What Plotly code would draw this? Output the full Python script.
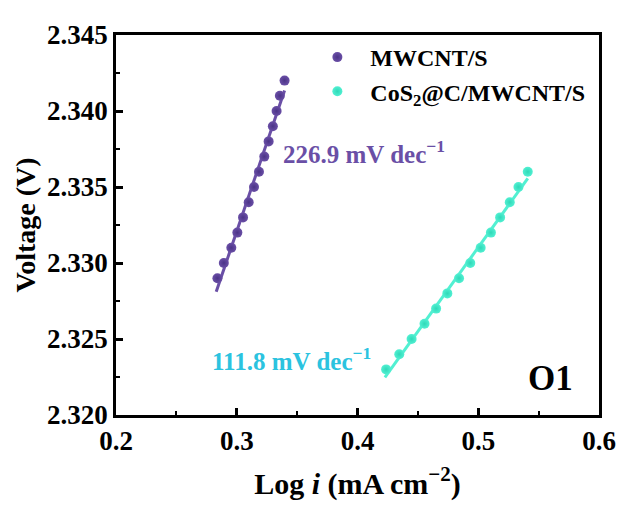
import numpy as np
import plotly.graph_objects as go

# Data
mw_logi = [0.284, 0.2893, 0.2955, 0.3005, 0.3052, 0.3099, 0.3143, 0.3184,
           0.3228, 0.3264, 0.3299, 0.333, 0.3357, 0.3396]
mw_volt = [2.329, 2.330, 2.331, 2.332, 2.333, 2.334, 2.335, 2.336,
           2.337, 2.338, 2.339, 2.340, 2.341, 2.342]

co_logi = [0.4237, 0.4346, 0.4448, 0.4555, 0.4651, 0.4744, 0.4841, 0.4934,
           0.502, 0.5105, 0.5181, 0.5261, 0.5333, 0.541]
co_volt = [2.323, 2.324, 2.325, 2.326, 2.327, 2.328, 2.329, 2.330,
           2.331, 2.332, 2.333, 2.334, 2.335, 2.336]

series_names = ["MWCNT/S", "CoS<sub>2</sub>@C/MWCNT/S"]
tafel_labels = ["226.9 mV dec<sup>−1</sup>", "111.8 mV dec<sup>−1</sup>"]
x_ticks = [0.2, 0.3, 0.4, 0.5, 0.6]
y_ticks = [2.320, 2.325, 2.330, 2.335, 2.340, 2.345]

PURPLE = "#6A4FA6"
CYAN_PT = "#52F0D2"
CYAN_TXT = "#2BC3DF"
FONT = "Liberation Serif"


def fit_line(x, y):
    x = np.asarray(x)
    y = np.asarray(y)
    k, b = np.polyfit(x, y, 1)
    xs = np.array([x.min() - 0.001, x.max()])
    return xs, k * xs + b


fig = go.Figure()

for xs, ys, col in [(mw_logi, mw_volt, PURPLE), (co_logi, co_volt, CYAN_PT)]:
    lx, ly = fit_line(xs, ys)
    fig.add_trace(go.Scatter(x=lx, y=ly, mode="lines",
                             line=dict(color=col, width=3),
                             showlegend=False, hoverinfo="skip"))

fig.add_trace(go.Scatter(x=mw_logi, y=mw_volt, mode="markers", name=series_names[0],
                         marker=dict(color=PURPLE, size=10,
                                     gradient=dict(type="radial", color="#4B3387"))))
fig.add_trace(go.Scatter(x=co_logi, y=co_volt, mode="markers", name=series_names[1],
                         marker=dict(color=CYAN_PT, size=10,
                                     gradient=dict(type="radial", color="#2FD9B8"))))

axis_common = dict(
    showline=True, linecolor="black", linewidth=2.5, mirror=True,
    ticks="inside", ticklen=7, tickwidth=2.5, tickcolor="black",
    showgrid=False, zeroline=False,
    tickfont=dict(family=FONT, size=27, color="black", weight="bold"),
)

fig.update_xaxes(range=[0.2, 0.6], tickvals=x_ticks,
                 ticktext=[f"{v:.1f}" for v in x_ticks],
                 minor=dict(ticks="inside", ticklen=4, tickwidth=2, tickcolor="black",
                            dtick=0.05),
                 title=dict(text="Log <i>i</i> (mA cm<sup>−2</sup>)",
                            font=dict(family=FONT, size=30, color="black", weight="bold"),
                            standoff=18),
                 **axis_common)
fig.update_yaxes(range=[2.320, 2.345], tickvals=y_ticks,
                 ticktext=[f"{v:.3f}" for v in y_ticks],
                 minor=dict(ticks="inside", ticklen=4, tickwidth=2, tickcolor="black",
                            dtick=0.0025),
                 title=dict(text="Voltage (V)",
                            font=dict(family=FONT, size=28, color="black", weight="bold"),
                            standoff=4),
                 **axis_common)

fig.add_annotation(x=0.337, y=2.3373, xref="x", yref="y", text=tafel_labels[0],
                   showarrow=False, xanchor="left", yanchor="middle",
                   font=dict(family=FONT, size=25, color=PURPLE, weight="bold"))
fig.add_annotation(x=0.278, y=2.3237, xref="x", yref="y", text=tafel_labels[1],
                   showarrow=False, xanchor="left", yanchor="middle",
                   font=dict(family=FONT, size=25, color=CYAN_TXT, weight="bold"))
fig.add_annotation(x=0.899, y=0.095, xref="paper", yref="paper", text="O1",
                   showarrow=False, xanchor="center", yanchor="middle",
                   font=dict(family=FONT, size=35, color="black", weight="bold"))

fig.update_layout(
    width=620, height=499,
    margin=dict(l=108, r=25, t=20, b=90),
    paper_bgcolor="white", plot_bgcolor="white",
    legend=dict(x=0.39, y=1.0, xanchor="left", yanchor="top",
                bgcolor="rgba(0,0,0,0)", itemwidth=56, tracegroupgap=0,
                font=dict(family=FONT, size=24, color="black", weight="bold")),
)

fig.write_html("out.html")
